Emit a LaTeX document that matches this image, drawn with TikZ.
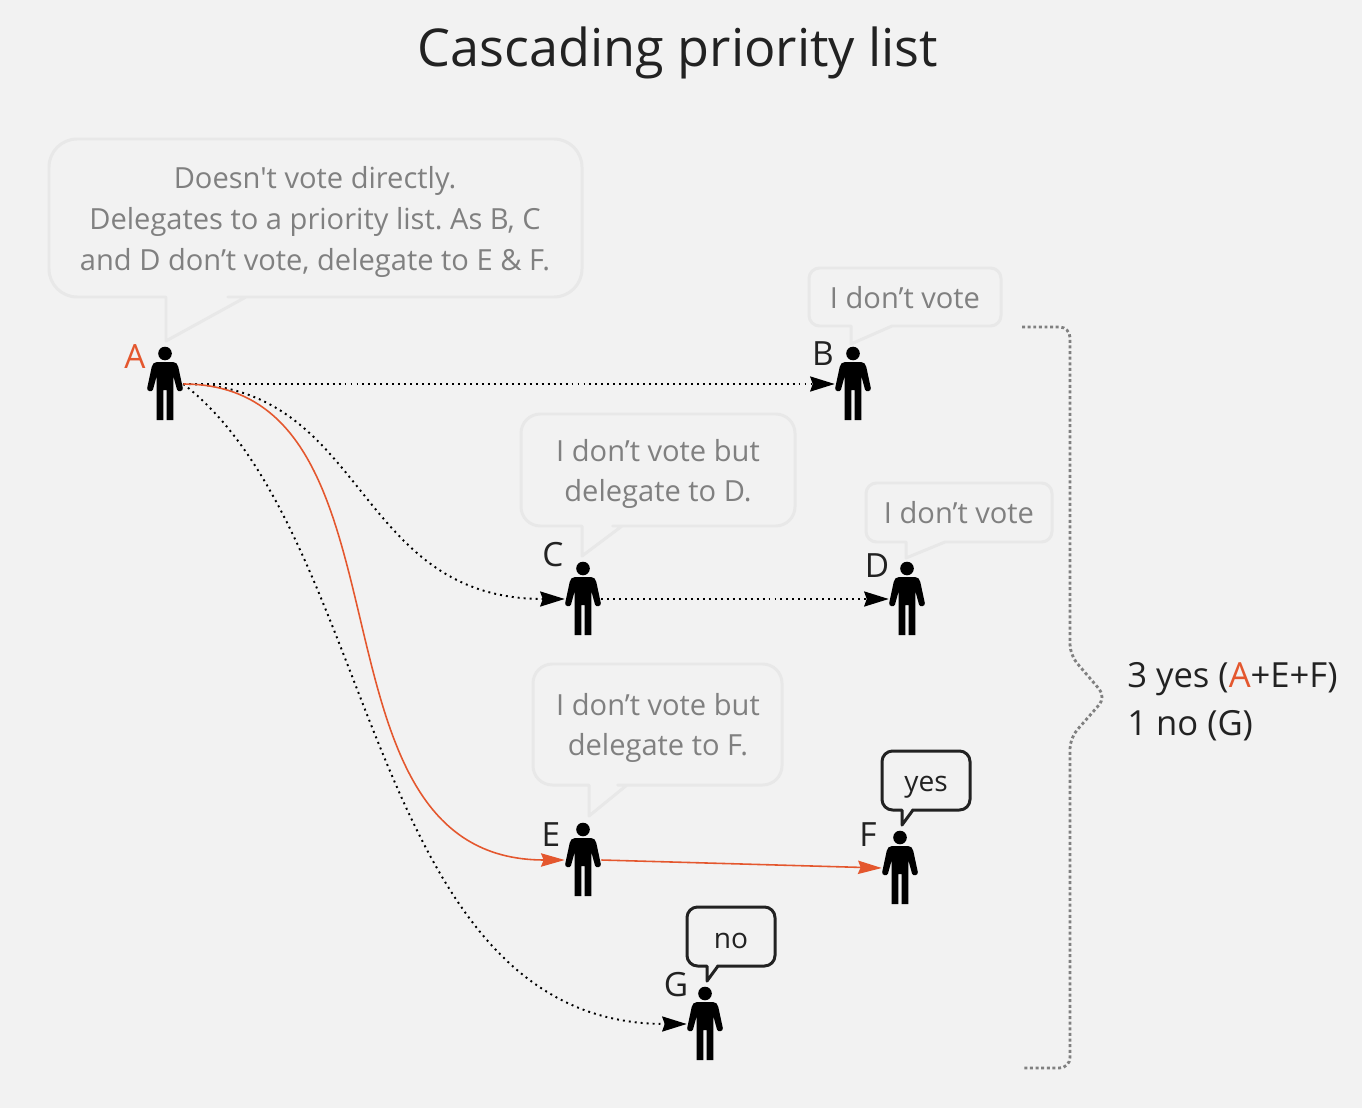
\documentclass[tikz,border=0pt]{standalone}
\usepackage{fontspec}
\setmainfont{Open Sans}[Ligatures=TeXOff]
\usetikzlibrary{arrows.meta}

\definecolor{paper}{HTML}{F2F2F2}
\definecolor{ink}{HTML}{222222}
\definecolor{faded}{HTML}{808080}
\definecolor{rim}{HTML}{E8E8E8}
\definecolor{voted}{HTML}{E4572E}

\tikzset{
  person/.style={inner sep=0pt,minimum width=20.4pt,minimum height=41.5pt},
  letter/.style={inner sep=0pt,font=\fontsize{19}{23}\selectfont},
  saying/.style={inner sep=0pt,align=center,text=faded,font=\fontsize{16.55}{23.1}\selectfont\frenchspacing},
  said/.style={inner sep=0pt,align=center,text=ink,font=\fontsize{16}{20}\selectfont},
  delegate/.style={line width=1.1pt,dash pattern=on 1.1pt off 2.3pt,
    -{Stealth[length=14pt,width=8.6pt,inset=1.5pt,black,sharp]}},
  counted/.style={line width=0.9pt,voted,
    -{Stealth[length=13.5pt,width=7.6pt,inset=1.5pt,voted,sharp]}},
  pics/figure/.style={code={
    \fill[black] (0,-30.5) circle[radius=6.8];
    \fill[black] (-8,-22) -- (8,-22) .. controls (11,-22) and (12.5,-20) .. (13.3,-17)
      -- (17.8,4) .. controls (18.5,7.5) and (12.8,8.5) .. (12,5.5) -- (8.3,-8) -- (8.3,36)
      -- (1.7,36) -- (1.7,6) -- (-1.7,6) -- (-1.7,36) -- (-8.3,36) -- (-8.3,-8)
      -- (-12,5.5) .. controls (-12.8,8.5) and (-18.5,7.5) .. (-17.8,4) -- (-13.3,-17)
      .. controls (-12.5,-20) and (-11,-22) .. (-8,-22) -- cycle;
  }}
}

\begin{document}
\begin{tikzpicture}[x=0.02cm,y=-0.02cm]
  \path[use as bounding box,fill=paper] (0,0) rectangle (1362,1108);

  \node[inner sep=0pt,text=ink,font=\fontsize{29.7}{34}\selectfont] (title) at (678,53) {Cascading priority list};

  % people
  \foreach \name/\x/\y/\lx/\ly/\col in {A/165/384/135/357/voted,B/853/384/823/354/ink,C/583/599/553/555/ink,
      D/907/599/877/566/ink,E/583/860/551/835/ink,F/900/868/868/835/ink,G/705/1024/676/985/ink}{
    \node[person] (\name) at (\x,\y) {};
    \pic at (\name) {figure};
    \node[letter,text=\col] (label\name) at (\lx,\ly) {\name};
  }

  % speech bubbles
  \foreach \x/\y/\xx/\yy/\r/\tl/\tr/\tx/\ty in {49/139/582/297/16pt/166/246/166/341,
      809/268/1001/326/6pt/851/892/851/344,521/414/795/526/11pt/582/622/582/556,
      866/483/1052/542/6pt/906/945/906/558,533/664/782/785/11pt/589/627/589/816}{
    \draw[rim,line width=1.7pt,line join=round,rounded corners=\r] (\tl,\yy) -- (\x,\yy) -- (\x,\y) -- (\xx,\y)
      -- (\xx,\yy) -- (\tr+10,\yy) [sharp corners] -- (\tr,\yy) -- (\tx,\ty) -- cycle;
  }
  \foreach \x/\y/\xx/\yy/\tl/\tr/\tx/\ty in {882/751/970/810/902/913/902/825,687/907/775/966/707/718/707/981}{
    \draw[ink,line width=1.7pt,line join=round,rounded corners=6pt] (\tl,\yy) -- (\x,\yy) -- (\x,\y) -- (\xx,\y)
      -- (\xx,\yy) -- (\tr+10,\yy) [sharp corners] -- (\tr,\yy) -- (\tx,\ty) -- cycle;
  }
  \node[saying] (sayA) at (315,222) {Doesn't vote directly.\\Delegates to a priority list. As B, C\\and D don’t vote, delegate to E \& F.};
  \node[saying] (sayB) at (905,298) {I don’t vote};
  \node[saying] (sayC) at (658,474) {I don’t vote but\\delegate to D.};
  \node[saying] (sayD) at (959,513) {I don’t vote};
  \node[saying] (sayE) at (658,728) {I don’t vote but\\delegate to F.};
  \node[said] (sayF) at (926,787) {yes};
  \node[said] (sayG) at (731,941) {no};

  % delegations
  \draw[delegate] (A.east) -- (B.west);
  \draw[delegate] (A.east) .. controls +(185,0) and +(-212,0) .. (C.west);
  \draw[delegate] (C.east) -- (D.west);
  \draw[delegate] (A.east) .. controls +(195,150) and +(-320,0) .. (G.west);
  \draw[counted] (A.east) .. controls +(244,0) and +(-272,0) .. (E.west);
  \draw[counted] (E.east) -- (F.west);

  % brace
  \coordinate (braceTop) at (1022,327);
  \coordinate (braceEnd) at (1022,1068);
  \draw[faded,line width=1.6pt,dash pattern=on 1.7pt off 1.5pt,rounded corners=6pt] (braceTop) -- (1070,327) -- (1070,655)
    -- (1106,697) -- (1070,738) -- (1070,1068) -- (braceEnd);

  \node[inner sep=0pt,anchor=west,align=left,text=ink,font=\fontsize{19.7}{27.2}\selectfont] (tally) at (1127,702)
    {3 yes ({\color{voted}A}+E+F)\\1 no (G)};
\end{tikzpicture}
\end{document}
